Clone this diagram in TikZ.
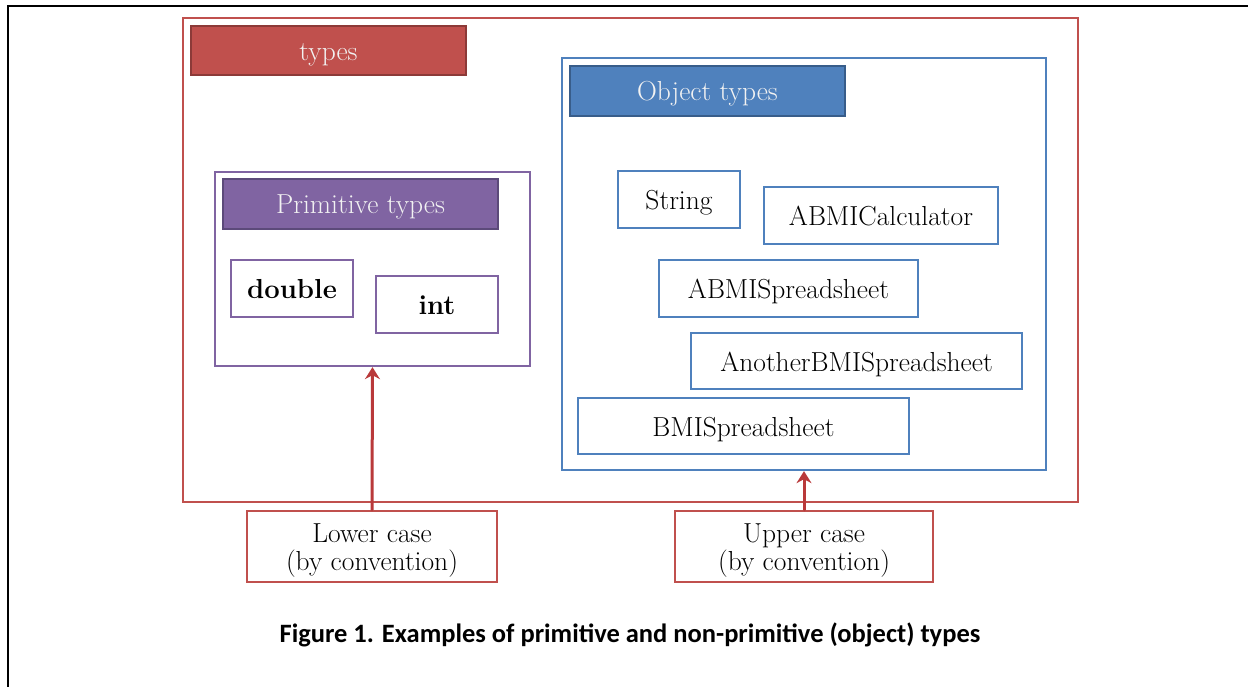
\documentclass[tikz,border=0pt]{standalone}
\usepackage{fontspec}
\newfontfamily\capfont{Carlito}
\usetikzlibrary{arrows.meta}
\definecolor{tred}{HTML}{C0504D}
\definecolor{tredd}{HTML}{8C3A38}
\definecolor{tpurple}{HTML}{8064A2}
\definecolor{tpurpled}{HTML}{5C4A7A}
\definecolor{tblue}{HTML}{4F81BD}
\definecolor{tblued}{HTML}{385D8A}
\definecolor{arrred}{HTML}{B9393A}

\begin{document}
\begin{tikzpicture}[x=1pt,y=-1pt,line cap=round,
  every node/.style={inner sep=0pt,font=\fontsize{27.5}{28}\selectfont},
  frame/.style={draw=#1,line width=2.3pt,rectangle},
  box/.style={frame=#1,text height=20pt,text depth=0pt},
  head/.style 2 args={draw=#2,fill=#1,line width=2.3pt,text=white!95!black,text height=20pt,text depth=0pt},
  note/.style={frame=tred,minimum height=71,align=center,text height=55pt},
  arr/.style={-{Stealth[length=12pt,width=15pt,inset=4pt]},arrred,line width=3pt}]
\useasboundingbox (0,0) rectangle (1248,687);
\draw[line width=2.6pt] (8,687) -- (8,6) -- (1248,6);
% types
\node[frame=tred,minimum width=895,minimum height=484] (types) at (630.5,260) {};
\node[head={tred}{tredd},minimum width=275,minimum height=49] (typeshd) at (328.5,50.5) {types};
% primitive types
\node[frame=tpurple,minimum width=315,minimum height=194] (prim) at (372.5,269) {};
\node[head={tpurple}{tpurpled},minimum width=275,minimum height=50] (primhd) at (360.5,204) {Primitive types};
\node[box=tpurple,minimum width=122,minimum height=57,font=\fontsize{27.5}{28}\selectfont\bfseries] (dbl) at (292,288.5) {double};
\node[box=tpurple,minimum width=122,minimum height=57,font=\fontsize{27.5}{28}\selectfont\bfseries] (int) at (437,304.5) {int};
% object types
\node[frame=tblue,minimum width=484,minimum height=412] (obj) at (804,264) {};
\node[head={tblue}{tblued},minimum width=275,minimum height=50] (objhd) at (707.5,91) {Object types};
\node[box=tblue,minimum width=122,minimum height=57] (str) at (679,199.5) {String};
\node[box=tblue,minimum width=234,minimum height=57] (calc) at (881,215.5) {ABMICalculator};
\node[box=tblue,minimum width=259,minimum height=57] (asheet) at (788.5,288.5) {ABMISpreadsheet};
\node[box=tblue,minimum width=331,minimum height=56] (another) at (856.5,361) {AnotherBMISpreadsheet};
\node[box=tblue,minimum width=331,minimum height=56] (bsheet) at (743.5,426) {BMISpreadsheet};
% conventions
\node[note,minimum width=250] (lower) at (372,546.5) {Lower case\\(by convention)};
\node[note,minimum width=258] (upper) at (804,546.5) {Upper case\\(by convention)};
\draw[arr] (lower.north) -- (prim.south);
\draw[arr] (upper.north) -- (obj.south);
\node[font=\capfont\bfseries\fontsize{26.5}{30}\selectfont] (caption) at (630,635) {Figure 1. Examples of primitive and non-primitive (object) types};
\end{tikzpicture}
\end{document}
